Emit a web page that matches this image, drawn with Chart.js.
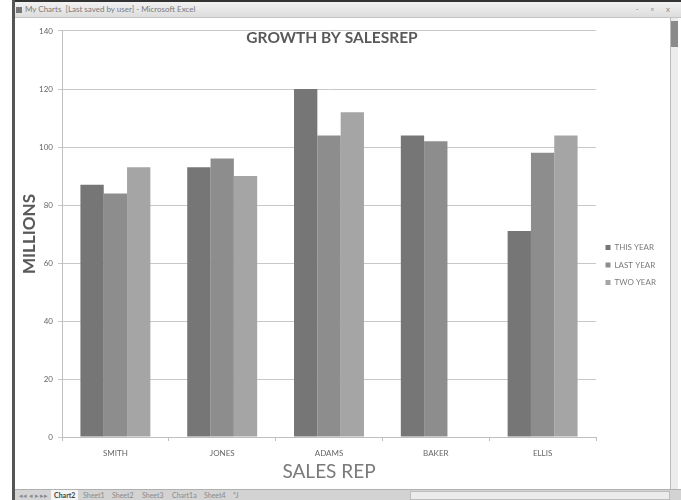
<!DOCTYPE html>
<html>
<head>
<meta charset="utf-8">
<title>Growth by salesrep</title>
<script src="https://cdn.jsdelivr.net/npm/chart.js@4.4.1/dist/chart.umd.min.js"></script>
<style>
  html, body { margin: 0; padding: 0; background: #fff; }
  body { width: 681px; height: 500px; position: relative; overflow: hidden; font-family: Lato, "Open Sans", sans-serif; }
  #titlebar {
    position: absolute; left: 13px; top: 0; width: 668px; height: 18px;
    border-top: 2px solid #333; border-bottom: 1px solid #c4c4c4;
    background: linear-gradient(#f2f2f2, #dddddd);
    font-size: 8px; color: #7a7a7a; line-height: 15px; box-sizing: border-box;
  }
  #titlebar .ico { display: inline-block; width: 6px; height: 6px; background: #777; margin: 0 3px 0 3px; vertical-align: -1px; }
  #titlebar .btns { position: absolute; right: 6px; top: 0; color: #888; letter-spacing: 5px; }
  #leftedge { position: absolute; left: 12px; top: 0; width: 3px; height: 500px; background: #555; }
  #vscroll { position: absolute; left: 670px; top: 18px; width: 7px; height: 471px; background: #ececec; border-left: 1px solid #bbb; }
  #vscroll .thumb { position: absolute; left: 0; top: 3px; width: 7px; height: 26px; background: #8a8a8a; }
  #tabbar {
    position: absolute; left: 15px; top: 489px; width: 666px; height: 11px;
    background: #d3d3d3; border-top: 1px solid #b0b0b0; font-size: 7px; color: #8a8a8a; line-height: 11px;
  }
  #tabbar span { position: absolute; top: 0; }
  #tabbar .on { color: #444; font-weight: bold; background: #f4f4f4; padding: 0 3px; }
  #tabbar .hs { position: absolute; left: 395px; top: 1px; width: 258px; height: 7px; background: #ececec; border: 1px solid #bdbdbd; }
  #chart { position: absolute; left: 0; top: 0; }
</style>
</head>
<body>
<div id="titlebar"><span class="ico"></span>My Charts&nbsp; [Last saved by user] - Microsoft Excel<span class="btns">- ▫ x</span></div>
<div id="leftedge"></div>
<div id="vscroll"><div class="thumb"></div></div>
<div id="tabbar">
  <span style="left:4px">◂◂ ◂ ▸ ▸▸</span>
  <span class="on" style="left:36px">Chart2</span>
  <span style="left:68px">Sheet1</span>
  <span style="left:97px">Sheet2</span>
  <span style="left:127px">Sheet3</span>
  <span style="left:157px">Chart1a</span>
  <span style="left:189px">Sheet4</span>
  <span style="left:218px">*J</span>
  <div class="hs"></div>
</div>
<canvas id="chart" width="681" height="500"></canvas>

<script>
// Podatki
const salesReps = ["SMITH", "JONES", "ADAMS", "BAKER", "ELLIS"];
const thisYear = [87, 93, 120, 104, 71];
const lastYear = [84, 96, 104, 102, 98];
const twoYears = [93, 90, 112, null, 104];
const seriesNames = ["THIS YEAR", "LAST YEAR", "TWO YEARS"];
const seriesColors = ["#767676", "#8d8d8d", "#a5a5a5"];

Chart.defaults.font.family = 'Lato, "Open Sans", sans-serif';
Chart.defaults.color = "#595959";

new Chart(document.getElementById("chart"), {
  type: "bar",
  data: {
    labels: salesReps,
    datasets: [thisYear, lastYear, twoYears].map((vals, i) => ({
      label: seriesNames[i],
      data: vals,
      backgroundColor: seriesColors[i],
      borderWidth: 0,
      barPercentage: 1,
      categoryPercentage: 0.655
    }))
  },
  options: {
    responsive: false,
    animation: false,
    layout: { padding: { left: 8, right: 25, top: 30, bottom: 0 } },
    plugins: {
      title: {
        display: true,
        text: "GROWTH BY SALESREP",
        color: "#595959",
        font: { size: 15.5, weight: "bold", lineHeight: 1.2 },
        padding: { top: -1, bottom: -16.6 }
      },
      legend: {
        position: "right",
        maxWidth: 60,
        labels: {
          boxWidth: 5,
          boxHeight: 5,
          padding: 9.5,
          color: "#7a7a7a",
          font: { size: 8 }
        }
      },
      tooltip: { enabled: false }
    },
    scales: {
      x: {
        grid: { drawOnChartArea: false, drawTicks: true, tickLength: 4, color: "#bfbfbf" },
        border: { color: "#bfbfbf" },
        ticks: { font: { size: 8 }, padding: 8, color: "#666666" },
        title: {
          display: true,
          text: "SALES REP",
          color: "#7a7a7a",
          font: { size: 19, lineHeight: 1.2 },
          padding: { top: 0, bottom: 17 }
        },
        afterFit: (s) => { s.height = 63; }
      },
      y: {
        min: 0,
        max: 140,
        ticks: { stepSize: 20, font: { size: 8 }, padding: 5, color: "#666666" },
        grid: { color: "#c8c8c8", tickLength: 4 },
        border: { color: "#bfbfbf" },
        title: {
          display: true,
          text: "MILLIONS",
          color: "#595959",
          font: { size: 17, weight: "bold", lineHeight: 1.2 },
          padding: { top: 11, bottom: 0 }
        },
        afterFit: (s) => { s.width = 54; }
      }
    }
  }
});
</script>
</body>
</html>
